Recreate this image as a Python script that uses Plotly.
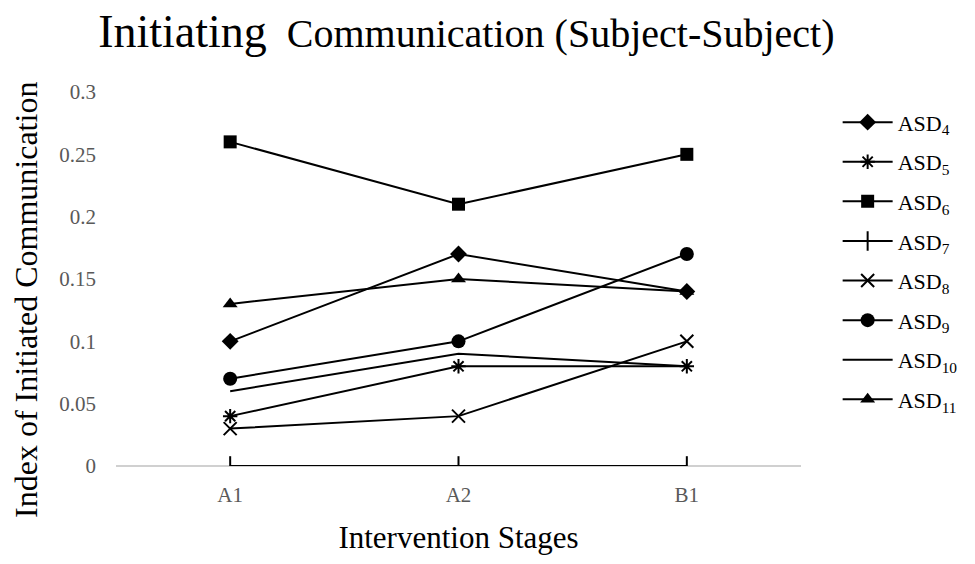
import plotly.graph_objects as go

# stages on the x axis
stages = ['A1', 'A2', 'B1']

# index of initiated communication per subject
asd4 = [0.10, 0.17, 0.14]
asd5 = [0.04, 0.08, 0.08]
asd6 = [0.26, 0.21, 0.25]
asd7 = [0.0, 0.0, 0.0]
asd8 = [0.03, 0.04, 0.10]
asd9 = [0.07, 0.10, 0.17]
asd10 = [0.06, 0.09, 0.08]
asd11 = [0.13, 0.15, 0.14]

y_ticks = [0, 0.05, 0.1, 0.15, 0.2, 0.25, 0.3]
y_ticktext = ['0', '0.05', '0.1', '0.15', '0.2', '0.25', '0.3']

SERIF = 'Liberation Serif, Times New Roman, serif'

series = [
    ('ASD<sub>4</sub>', asd4, dict(symbol='diamond', size=13)),
    ('ASD<sub>5</sub>', asd5, dict(symbol='asterisk-open', size=12, line=dict(width=2, color='black'))),
    ('ASD<sub>6</sub>', asd6, dict(symbol='square', size=13)),
    ('ASD<sub>7</sub>', asd7, dict(symbol='line-ns-open', size=14, line=dict(width=2, color='black'))),
    ('ASD<sub>8</sub>', asd8, dict(symbol='x-thin-open', size=13, line=dict(width=2, color='black'))),
    ('ASD<sub>9</sub>', asd9, dict(symbol='circle', size=14)),
    ('ASD<sub>10</sub>', asd10, None),
    ('ASD<sub>11</sub>', asd11, dict(symbol='triangle-up', size=13)),
]

fig = go.Figure()

for name, vals, mk in series:
    if mk is None:
        fig.add_trace(go.Scatter(
            x=stages, y=vals, name=name, mode='lines', legendgroup=name,
            line=dict(color='black', width=2),
        ))
    else:
        mk = dict(mk)
        mk['color'] = 'black'
        fig.add_trace(go.Scatter(
            x=stages, y=vals, name=name, mode='lines+markers', legendgroup=name,
            line=dict(color='black', width=2),
            marker=mk,
        ))

# page body has an 8px margin, so the figure is a bit smaller than the window
fig.update_layout(
    width=967,
    height=556,
    margin=dict(l=108, r=172, t=84, b=98),
    paper_bgcolor='white',
    plot_bgcolor='white',
    font=dict(family=SERIF, color='black'),
    showlegend=True,
    legend=dict(
        x=1.0535, y=0.975, xanchor='left', yanchor='top',
        font=dict(family=SERIF, size=22, color='black'),
        traceorder='grouped',
        tracegroupgap=8,
        itemwidth=50,
        bgcolor='rgba(0,0,0,0)',
    ),
    title=dict(
        text='<span style="font-size:46px">Initiating</span>&nbsp;&nbsp;'
             '<span style="font-size:40px">Communication (Subject-Subject)</span>',
        xref='container', yref='container', x=0.474, y=0.98,
        xanchor='center', yanchor='top',
        font=dict(family=SERIF, color='black', size=40),
    ),
    # y axis title placed by hand: it sits lower than the plot centre
    annotations=[dict(
        text='Index of Initiated Communication',
        textangle=-90,
        xref='paper', yref='paper', x=0, y=0.444,
        xanchor='center', yanchor='middle', xshift=-90,
        showarrow=False,
        font=dict(family=SERIF, size=32, color='black'),
    )],
)

fig.update_xaxes(
    range=[-0.5, 2.5],
    showgrid=False,
    showline=False,
    zeroline=False,
    ticks='',
    ticklabelstandoff=14,
    tickfont=dict(family=SERIF, size=21, color='#595959'),
    title=dict(text='Intervention Stages', font=dict(family=SERIF, size=31, color='black'), standoff=20),
)

fig.update_yaxes(
    range=[0, 0.3],
    tickvals=y_ticks,
    ticktext=y_ticktext,
    showgrid=False,
    showline=False,
    zeroline=True,
    zerolinecolor='#d0d0d0',
    zerolinewidth=2,
    ticks='',
    ticklabelstandoff=19,
    tickfont=dict(family=SERIF, size=21, color='#595959'),
)

fig.write_html('out.html')
